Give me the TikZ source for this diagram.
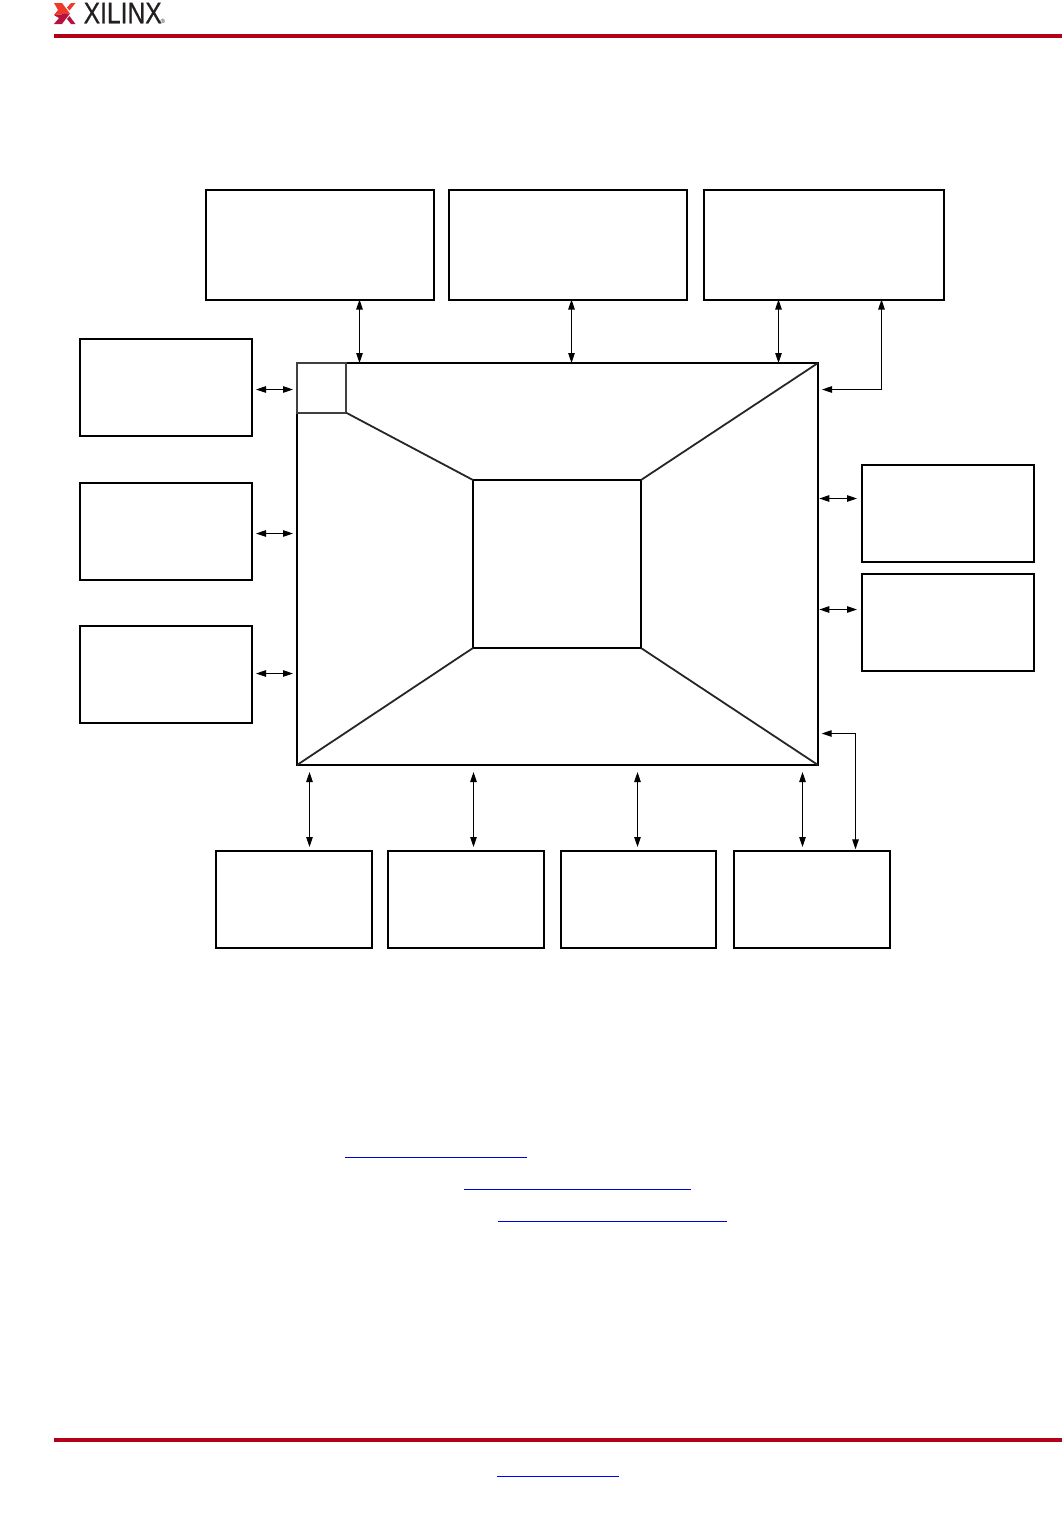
\documentclass[tikz,border=0pt]{standalone}
\usepackage{fontspec}
\setmainfont{Liberation Sans}
\newfontfamily\logofont[FakeBold=0.6]{Liberation Sans}
\usetikzlibrary{arrows.meta}
\definecolor{xred}{HTML}{B10017}
\definecolor{xorange}{HTML}{EE3A2A}
\definecolor{xcrimson}{HTML}{B5123E}
\definecolor{xtext}{HTML}{231F20}
\definecolor{linkblue}{HTML}{0000E0}
\tikzset{
  blockbox/.style={draw=black,line width=2pt,fill=none,inner sep=0pt,outer sep=0pt},
  corner/.style={draw=black!75,line width=2pt,inner sep=0pt,outer sep=0pt},
  diag/.style={draw=black!85,line width=1.8pt},
  link/.style={line width=1.1pt,{Triangle[length=10pt,width=6.5pt]}-{Triangle[length=10pt,width=6.5pt]}},
  rulebar/.style={draw=none,fill=xred},
  hyper/.style={draw=linkblue,line width=1.1pt}
}
\begin{document}
\begin{tikzpicture}[x=1pt,y=-1pt]
\useasboundingbox (0,0) rectangle (1062,1516);
% header and footer
\fill[rulebar] (54,34) rectangle (1062,38);
\fill[rulebar] (54,1438) rectangle (1062,1442);
\fill[xorange] (54,3) -- (62,3) -- (70,13.5) -- (54,15) -- (58,10) -- cycle;
\fill[xorange] (67,7.5) -- (71,3) -- (75.5,3) -- (69.5,10.5) -- cycle;
\fill[xcrimson] (54,15) -- (70,13.5) -- (62,24) -- (54,24) -- (59,18) -- cycle;
\fill[xcrimson] (67,19) -- (69.5,16) -- (75.5,24) -- (71,24) -- cycle;
\node[anchor=west,inner sep=0pt,text=xtext] (logo) at (83.5,13)
  {\resizebox{78pt}{20.5pt}{\logofont XILINX}};
\node[anchor=west,inner sep=0pt,text=xtext,font=\fontsize{6}{6}\selectfont] (reg) at (160.5,21.5) {®};
% blocks
\node[blockbox,minimum width=228pt,minimum height=110pt] (topa) at (320,245) {};
\node[blockbox,minimum width=238pt,minimum height=110pt] (topb) at (568,245) {};
\node[blockbox,minimum width=240pt,minimum height=110pt] (topc) at (824,245) {};
\node[blockbox,minimum width=172pt,minimum height=97pt] (lefta) at (166,387.5) {};
\node[blockbox,minimum width=172pt,minimum height=97pt] (leftb) at (166,531.5) {};
\node[blockbox,minimum width=172pt,minimum height=97pt] (leftc) at (166,674.5) {};
\node[blockbox,minimum width=172pt,minimum height=97pt] (righta) at (948,513.5) {};
\node[blockbox,minimum width=172pt,minimum height=97pt] (rightb) at (948,622.5) {};
\node[blockbox,minimum width=156pt,minimum height=97pt] (bota) at (294,899.5) {};
\node[blockbox,minimum width=156pt,minimum height=97pt] (botb) at (466,899.5) {};
\node[blockbox,minimum width=155pt,minimum height=97pt] (botc) at (638.5,899.5) {};
\node[blockbox,minimum width=156pt,minimum height=97pt] (botd) at (812,899.5) {};
\node[blockbox,minimum width=521pt,minimum height=402pt] (core) at (557.5,564) {};
\node[blockbox,minimum width=168pt,minimum height=168pt] (centre) at (557,564) {};
\node[corner,minimum width=49.5pt,minimum height=49.5pt] (small) at (321.5,388) {};
% diagonals
\draw[diag] (small.south east) -- (centre.north west);
\draw[diag] (core.north east) -- (centre.north east);
\draw[diag] (core.south west) -- (centre.south west);
\draw[diag] (core.south east) -- (centre.south east);
% guide coordinates
\coordinate (xa) at (359.5,0);
\coordinate (xb) at (571.5,0);
\coordinate (xc) at (778.5,0);
\coordinate (xd) at (881.5,0);
\coordinate (xe) at (309.5,0);
\coordinate (xf) at (473.5,0);
\coordinate (xg) at (637.5,0);
\coordinate (xh) at (802.5,0);
\coordinate (xi) at (855.5,0);
\coordinate (ya) at (0,389.5);
\coordinate (yb) at (0,533.5);
\coordinate (yc) at (0,673.5);
\coordinate (yd) at (0,498.5);
\coordinate (ye) at (0,609.5);
\coordinate (yf) at (0,733.5);
% connectors: top
\draw[link,shorten <=-0.5pt] (topa.south -| xa) -- (core.north -| xa);
\draw[link,shorten <=-0.5pt] (topb.south -| xb) -- (core.north -| xb);
\draw[link,shorten <=-0.5pt] (topc.south -| xc) -- (core.north -| xc);
\draw[link,shorten <=-0.5pt,shorten >=4pt] (topc.south -| xd) |- (core.east |- ya);
% connectors: left
\draw[link,shorten <=4pt,shorten >=4pt] (lefta.east |- ya) -- (core.west |- ya);
\draw[link,shorten <=4pt,shorten >=4pt] (leftb.east |- yb) -- (core.west |- yb);
\draw[link,shorten <=4pt,shorten >=4pt] (leftc.east |- yc) -- (core.west |- yc);
% connectors: right
\draw[link,shorten <=1.3pt,shorten >=5pt] (core.east |- yd) -- (righta.west |- yd);
\draw[link,shorten <=1.3pt,shorten >=5pt] (core.east |- ye) -- (rightb.west |- ye);
% connectors: bottom
\draw[link,shorten <=7pt,shorten >=4pt] (core.south -| xe) -- (bota.north -| xe);
\draw[link,shorten <=7pt,shorten >=4pt] (core.south -| xf) -- (botb.north -| xf);
\draw[link,shorten <=7pt,shorten >=4pt] (core.south -| xg) -- (botc.north -| xg);
\draw[link,shorten <=7pt,shorten >=4pt] (core.south -| xh) -- (botd.north -| xh);
\draw[link,shorten <=3.7pt,shorten >=1.7pt] (core.east |- yf) -| (botd.north -| xi);
% hyperlink underlines
\draw[hyper] (345,1157.3) -- (527,1157.3);
\draw[hyper] (464,1189.3) -- (691,1189.3);
\draw[hyper] (498,1221.3) -- (727,1221.3);
\draw[hyper,draw=blue] (497,1476.3) -- (619,1476.3);
\end{tikzpicture}
\end{document}
